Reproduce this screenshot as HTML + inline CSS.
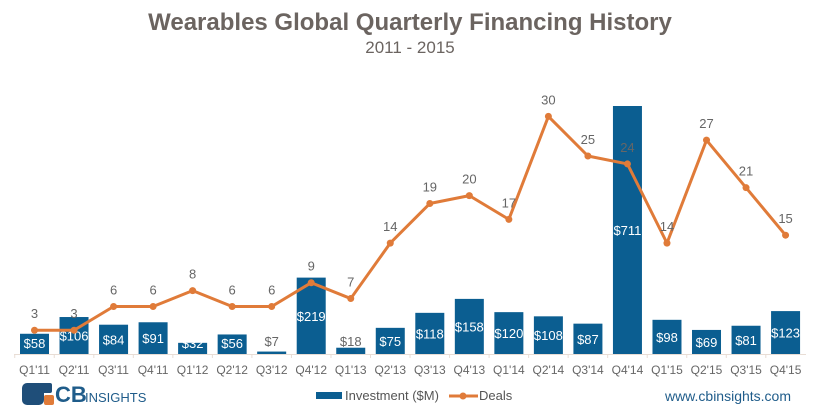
<!DOCTYPE html>
<html><head><meta charset="utf-8"><style>
body{margin:0;background:#fff;}
svg{display:block;font-family:"Liberation Sans",sans-serif;}
</style></head><body>
<svg id="chart" width="820" height="416" viewBox="0 0 820 416">
<text x="410" y="30" text-anchor="middle" font-size="24" font-weight="bold" fill="#6b6460">Wearables Global Quarterly Financing History</text>
<text x="410" y="53" text-anchor="middle" font-size="17" fill="#6b6460">2011 - 2015</text>
<g id="plot"></g>
<g>
<rect x="22" y="383" width="22" height="22" rx="5" fill="#1f4e79"/>
<rect x="38" y="383" width="14" height="10" rx="2" fill="#1f4e79"/>
<rect x="44" y="395" width="10" height="10" rx="2" fill="#e07b39"/>
<text x="55" y="402" font-size="22" font-weight="bold" fill="#1f5c8a">CB</text>
<text x="85" y="402" font-size="13" fill="#1f5c8a">INSIGHTS</text>
</g>
<g>
<rect x="316" y="392" width="26" height="7" fill="#0b5e91"/>
<text x="345" y="400" font-size="13" fill="#555">Investment ($M)</text>
<line x1="449" y1="396" x2="478" y2="396" stroke="#e07b39" stroke-width="3"/>
<circle cx="463" cy="396" r="3.5" fill="#e07b39"/>
<text x="479" y="400" font-size="13" fill="#555">Deals</text>
</g>
<text x="791" y="401" text-anchor="end" font-size="14" fill="#1f5c8a">www.cbinsights.com</text>
</svg>
<script>
const categories=["Q1'11","Q2'11","Q3'11","Q4'11","Q1'12","Q2'12","Q3'12","Q4'12","Q1'13","Q2'13","Q3'13","Q4'13","Q1'14","Q2'14","Q3'14","Q4'14","Q1'15","Q2'15","Q3'15","Q4'15"];
const investment=[58,106,84,91,32,56,7,219,18,75,118,158,120,108,87,711,98,69,81,123];
const deals=[3,3,6,6,8,6,6,9,7,14,19,20,17,30,25,24,14,27,21,15];
const NS="http://www.w3.org/2000/svg";
const base=354, x0=34.5, step=39.53, bw=29;
const xPos=i=>x0+i*step;
const yInv=v=>base-v*0.3488;
const yDeal=v=>base-v*7.92;
const g=document.getElementById('plot');
function mk(t,a){const e=document.createElementNS(NS,t);for(const k in a)e.setAttribute(k,a[k]);g.appendChild(e);return e;}
let ax=mk('line',{x1:14,y1:base+0.5,x2:806,y2:base+0.5,stroke:'#e8ddd5','stroke-width':1});


categories.forEach((c,i)=>{
 const x=xPos(i);
 const tk=mk('line',{x1:x-step/2,y1:base,x2:x-step/2,y2:base+4,stroke:'#e8ddd5'});
 
 
 const v=investment[i];const y=yInv(v);
 const r=mk('rect',{x:x-bw/2,y:y,width:bw,height:base-y,fill:'#0b5e91'});
 
 
 let ly,col='#fff';
 if(v<20){ly=341;col='#666';}else{ly=Math.min((y+base)/2,343);}
 const t=mk('text',{x:x,y:ly+5,'text-anchor':'middle','font-size':13,fill:col});
 t.textContent='$'+v;
 
 
 const xl=mk('text',{x:x,y:374,'text-anchor':'middle','font-size':12,fill:'#666'});
 xl.textContent=c;
 
 
});
const pts=deals.map((d,i)=>xPos(i)+','+yDeal(d)).join(' ');
const pl=mk('polyline',{points:pts,fill:'none',stroke:'#e07b39','stroke-width':3,'stroke-linejoin':'round'});


deals.forEach((d,i)=>{
 const c=mk('circle',{cx:xPos(i),cy:yDeal(d),r:3.5,fill:'#e07b39'});
 
 
 const t=mk('text',{x:xPos(i),y:yDeal(d)-12,'text-anchor':'middle','font-size':13,fill:'#666'});
 t.textContent=d;
 
 
});
</script>
</body></html>
